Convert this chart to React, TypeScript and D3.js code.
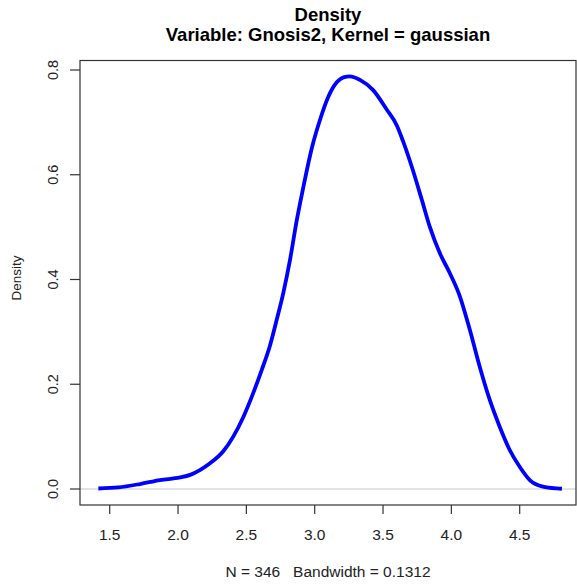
import React from "react";
import * as d3 from "d3";

const xValues = [1.417, 1.563, 1.722, 1.868, 2.014, 2.089, 2.16, 2.234, 2.331, 2.404, 2.477, 2.55, 2.612, 2.673, 2.722, 2.77, 2.819, 2.868, 2.908, 2.981, 3.039, 3.098, 3.163, 3.21, 3.258, 3.331, 3.426, 3.528, 3.601, 3.645, 3.718, 3.784, 3.843, 3.916, 3.989, 4.062, 4.135, 4.208, 4.281, 4.355, 4.428, 4.501, 4.574, 4.67, 4.772, 4.809];
const densityValues = [0.001, 0.003, 0.0095, 0.017, 0.022, 0.027, 0.036, 0.049, 0.072, 0.1, 0.137, 0.183, 0.227, 0.274, 0.323, 0.374, 0.437, 0.512, 0.565, 0.653, 0.705, 0.748, 0.777, 0.786, 0.788, 0.781, 0.762, 0.724, 0.694, 0.665, 0.609, 0.552, 0.5, 0.45, 0.412, 0.368, 0.304, 0.233, 0.17, 0.118, 0.074, 0.042, 0.017, 0.0044, 0.001, 0.0005];
const xTicks = [1.5, 2.0, 2.5, 3.0, 3.5, 4.0, 4.5];
const yTicks = [0.0, 0.2, 0.4, 0.6, 0.8];

const titleLine1 = "Density";
const titleLine2 = "Variable: Gnosis2, Kernel = gaussian";
const xLabel = "N = 346   Bandwidth = 0.1312";
const yLabel = "Density";

export default function App() {
  const W = 577, H = 587;
  const box = { left: 80, right: 576, top: 60.5, bottom: 505 };
  const x = d3.scaleLinear().domain([1.5, 4.5]).range([109.7, 519.7]);
  const y = d3.scaleLinear().domain([0, 0.8]).range([489, 70]);
  const pts = xValues.map((v, i) => [v, densityValues[i]] as [number, number]);
  const line = d3.line<[number, number]>().x(d => x(d[0])).y(d => y(d[1])).curve(d3.curveMonotoneX);
  const font = "Liberation Sans, Arial, sans-serif";
  return (
    <svg width={W} height={H} style={{ position: "absolute", left: 0, top: 0, background: "#fff" }} fontFamily={font}>
      <rect x={0} y={0} width={W} height={H} fill="#fff" />
      <text x={328} y={21} textAnchor="middle" fontWeight="bold" fontSize={18.5}>{titleLine1}</text>
      <text x={328} y={41} textAnchor="middle" fontWeight="bold" fontSize={18.5}>{titleLine2}</text>
      <line x1={box.left} x2={box.right} y1={y(0)} y2={y(0)} stroke="#c8c8c8" strokeWidth={1.2} />
      <path d={line(pts) || ""} fill="none" stroke="#0000ff" strokeWidth={3.8} strokeLinejoin="round" />
      <rect x={box.left} y={box.top} width={box.right - box.left} height={box.bottom - box.top} fill="none" stroke="#333" strokeWidth={1.2} />
      {xTicks.map(t => (
        <g key={"x" + t}>
          <line x1={x(t)} x2={x(t)} y1={box.bottom} y2={box.bottom + 9} stroke="#333" strokeWidth={1.2} />
          <text x={x(t)} y={540} textAnchor="middle" fontSize={15.5} fill="#222">{t.toFixed(1)}</text>
        </g>
      ))}
      {yTicks.map(t => (
        <g key={"y" + t}>
          <line x1={box.left - 10} x2={box.left} y1={y(t)} y2={y(t)} stroke="#333" strokeWidth={1.2} />
          <text transform={`translate(58,${y(t)}) rotate(-90)`} textAnchor="middle" fontSize={14.5} fill="#222">{t.toFixed(1)}</text>
        </g>
      ))}
      <text x={328} y={577} textAnchor="middle" fontSize={15.5} fill="#222" style={{ whiteSpace: "pre" }}>{xLabel}</text>
      <text transform={`translate(21,${278}) rotate(-90)`} textAnchor="middle" fontSize={13.5} fill="#222">{yLabel}</text>
    </svg>
  );
}
